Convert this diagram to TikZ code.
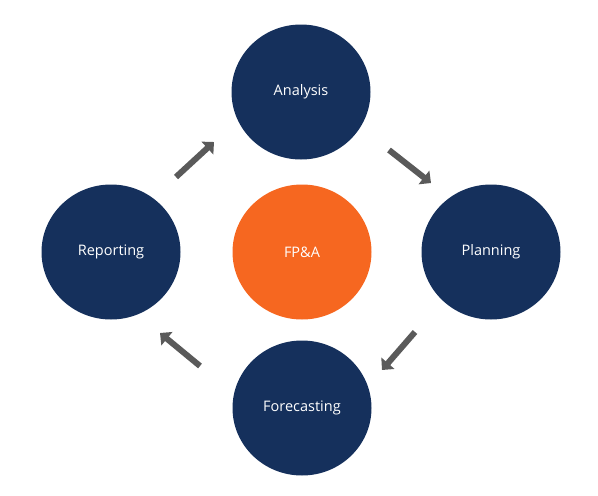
\documentclass[tikz,border=0pt]{standalone}
\usepackage{fontspec}
\setmainfont{Open Sans}
\usetikzlibrary{arrows.meta,shapes.geometric}
\definecolor{navy}{RGB}{21,48,92}
\definecolor{fporange}{RGB}{246,103,32}
\definecolor{arrowgray}{RGB}{90,90,90}
\begin{document}
\begin{tikzpicture}[x=1pt,y=-1pt,
  bubble/.style={ellipse,minimum width=139pt,minimum height=135pt,inner sep=0pt,text=white,font=\fontsize{14.5}{16}\selectfont},
  cyc/.style={draw=arrowgray,line width=6pt,-{Triangle[length=9pt,width=17pt]}}]
\useasboundingbox (0,0) rectangle (598,496);
\node[bubble,fill=navy] (analysis) at (301,92) {\raisebox{-1.5pt}{Analysis}};
\node[bubble,fill=navy] (reporting) at (111,252) {\raisebox{-1.5pt}{Reporting}};
\node[bubble,fill=fporange] (fpa) at (302,252) {\raisebox{-1.5pt}{FP\&A}};
\node[bubble,fill=navy] (planning) at (491,252) {\raisebox{-1.5pt}{Planning}};
\node[bubble,fill=navy] (forecasting) at (302,408) {\raisebox{-1.5pt}{Forecasting}};
\coordinate (a1s) at (176,177);
\coordinate (a1e) at (214,142);
\coordinate (a2s) at (389,150);
\coordinate (a2e) at (431,183);
\coordinate (a3s) at (415,332);
\coordinate (a3e) at (382,370);
\coordinate (a4s) at (200,366);
\coordinate (a4e) at (160,333);
\draw[cyc] (a1s) -- (a1e);
\draw[cyc] (a2s) -- (a2e);
\draw[cyc] (a3s) -- (a3e);
\draw[cyc] (a4s) -- (a4e);
\end{tikzpicture}
\end{document}
